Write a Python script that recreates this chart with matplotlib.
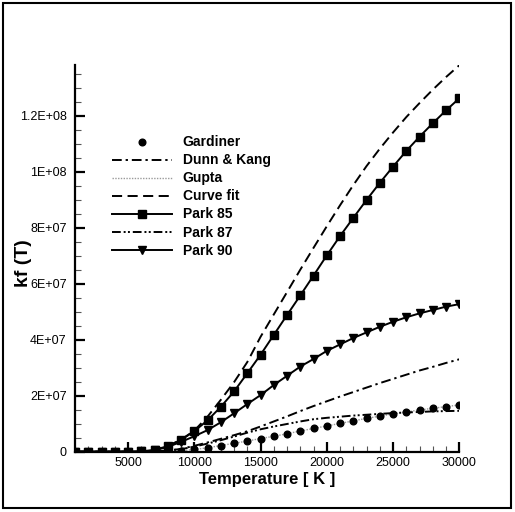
import matplotlib
matplotlib.use("Agg")
import matplotlib.pyplot as plt
import numpy as np
from matplotlib.ticker import MultipleLocator, FixedLocator
from matplotlib.patches import Rectangle

plt.rcParams['font.family'] = ['Liberation Sans', 'DejaVu Sans']

# Temperature grid [K]
temperature = list(range(1000, 30001, 1000))

# Forward rate coefficients, in units of 1e6
gardiner = [0, 0, 0, 0, 0, 0, 0, 0.1, 0.3, 0.8,
            1.4, 2.1, 3.0, 3.8, 4.6, 5.5, 6.4, 7.4, 8.3, 9.2,
            10.1, 11.1, 11.9, 12.8, 13.6, 14.2, 14.9, 15.5, 16.1, 16.7]
dunn_kang = [0, 0, 0, 0, 0, 0, 0.1, 0.4, 1.0, 2.1,
             3.3, 4.6, 5.9, 7.3, 9.0, 10.8, 12.6, 14.5, 16.3, 18.0,
             19.7, 21.3, 22.9, 24.5, 26.0, 27.5, 29.0, 30.3, 31.7, 33.0]
gupta = [0, 0, 0, 0, 0, 0, 0, 0.1, 0.3, 0.8,
         1.4, 2.2, 3.0, 3.8, 4.7, 5.5, 6.4, 7.4, 8.3, 9.2,
         10.1, 11.0, 11.9, 12.7, 13.5, 14.2, 14.9, 15.5, 16.1, 16.7]
curve_fit = [0, 0, 0, 0, 0, 0.1, 0.6, 2.0, 4.3, 7.5,
             12.5, 18.5, 24.8, 32.0, 41.0, 49.0, 57.0, 65.0, 72.8, 80.5,
             88.0, 95.2, 102.0, 108.2, 114.0, 119.5, 124.5, 129.3, 133.8, 138.0]
park85 = [0, 0, 0, 0, 0, 0.1, 0.6, 2.0, 4.2, 7.3,
          11.2, 16.0, 21.5, 28.0, 34.6, 41.7, 48.8, 55.8, 62.9, 70.1,
          77.0, 83.5, 89.9, 96.0, 101.8, 107.4, 112.5, 117.3, 121.9, 126.2]
park87 = [0, 0, 0, 0, 0, 0, 0.1, 0.4, 0.9, 1.8,
          2.9, 4.1, 5.4, 6.8, 8.0, 9.0, 9.9, 10.8, 11.6, 12.1,
          12.5, 12.9, 13.2, 13.5, 13.8, 14.0, 14.2, 14.4, 14.5, 14.6]
park90 = [0, 0, 0, 0, 0, 0.1, 0.5, 1.7, 3.5, 5.5,
          7.7, 10.5, 13.7, 17.0, 20.2, 23.8, 27.1, 30.4, 33.1, 36.0,
          38.3, 40.6, 42.6, 44.6, 46.4, 48.0, 49.4, 50.6, 51.8, 52.7]

xticks = [5000, 10000, 15000, 20000, 25000, 30000]
xtick_labels = ["5000", "10000", "15000", "20000", "25000", "30000"]
yticks = [0, 2e7, 4e7, 6e7, 8e7, 1e8, 1.2e8]
ytick_labels = ["0", "2E+07", "4E+07", "6E+07", "8E+07", "1E+08", "1.2E+08"]

T = np.array(temperature)
scale = 1e6
LW = 1.4

fig = plt.figure(figsize=(5.15, 5.12), dpi=100)
ax = fig.add_axes([75 / 515, 60.3 / 512, 384.3 / 515, 386.7 / 512])

ax.plot(T, np.array(gupta) * scale, color='#9a9a9a', lw=1.0,
        linestyle=(0, (1, 1)), label='Gupta', zorder=2)
ax.plot(T, np.array(gardiner) * scale, linestyle='none', marker='o',
        color='black', ms=4.8, label='Gardiner', zorder=3)
ax.plot(T, np.array(dunn_kang) * scale, color='black', lw=LW,
        dashes=(5, 2, 1.2, 2), label='Dunn & Kang', zorder=2)
ax.plot(T, np.array(curve_fit) * scale, color='black', lw=LW,
        dashes=(5.2, 2.8), label='Curve fit', zorder=2)
ax.plot(T, np.array(park85) * scale, color='black', lw=LW,
        marker='s', ms=5.8, label='Park 85', zorder=3)
ax.plot(T, np.array(park87) * scale, color='black', lw=LW,
        dashes=(4.5, 1.5, 1, 1.2, 1, 1.5), label='Park 87', zorder=2)
ax.plot(T, np.array(park90) * scale, color='black', lw=LW,
        marker='v', ms=6.2, label='Park 90', zorder=3)

ax.set_xlim(1000, 30000)
ax.set_ylim(0, 1.381e8)

for side in ('top', 'right'):
    ax.spines[side].set_visible(False)
for side in ('left', 'bottom'):
    ax.spines[side].set_linewidth(1.6)

ax.xaxis.set_major_locator(FixedLocator(xticks))
ax.set_xticklabels(xtick_labels)
ax.xaxis.set_minor_locator(MultipleLocator(1000))
ax.yaxis.set_major_locator(FixedLocator(yticks))
ax.set_yticklabels(ytick_labels)
ax.yaxis.set_minor_locator(MultipleLocator(5e6))

ax.tick_params(axis='both', which='major', direction='in', length=7,
               width=1.6, labelsize=9, color='black')
ax.tick_params(axis='both', which='minor', direction='in', length=4,
               width=0.8, color='#555555')
ax.tick_params(axis='x', which='major', pad=4)
ax.tick_params(axis='y', which='major', pad=6)

ax.set_xlabel('Temperature [ K ]', fontsize=12, fontweight='bold')
ax.xaxis.set_label_coords(0.5, -0.052)
ax.set_ylabel('kf (T)', fontsize=14, fontweight='bold')
ax.yaxis.set_label_coords(-0.112, 0.488)

order = ['Gardiner', 'Dunn & Kang', 'Gupta', 'Curve fit', 'Park 85', 'Park 87', 'Park 90']
handles, labels = ax.get_legend_handles_labels()
lookup = dict(zip(labels, handles))
leg = ax.legend([lookup[k] for k in order], order, loc='upper left',
                bbox_to_anchor=(0.096, 0.818), frameon=False,
                prop={'weight': 'bold', 'size': 10}, handlelength=4.3,
                handletextpad=0.8, labelspacing=0.29, borderpad=0,
                borderaxespad=0, numpoints=1)

fig.patches.append(Rectangle((3 / 515, 4 / 512), 508 / 515, 505 / 512,
                             transform=fig.transFigure, fill=False,
                             edgecolor='black', lw=1.5))

fig.savefig('out.png', dpi=100)
